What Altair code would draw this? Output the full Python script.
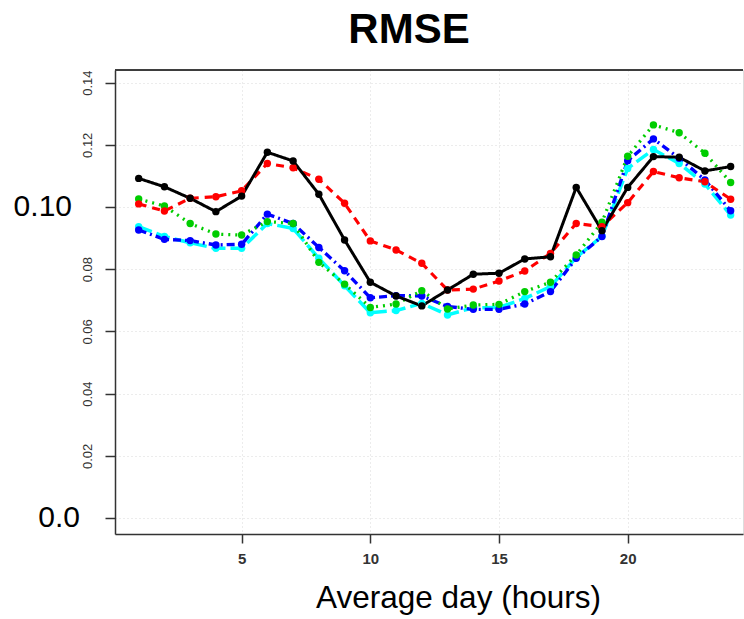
import altair as alt
import pandas as pd

hours = list(range(1, 25))
black = [0.1092, 0.1065, 0.1028, 0.0985, 0.1035, 0.1176, 0.1148, 0.1041, 0.0894, 0.0758, 0.0714, 0.0682,
         0.0733, 0.0784, 0.0787, 0.0833, 0.0840, 0.1063, 0.0924, 0.1063, 0.1162, 0.1160, 0.1116, 0.1130]
red = [0.1010, 0.0987, 0.1028, 0.1033, 0.1052, 0.1140, 0.1126, 0.1089, 0.1012, 0.0891, 0.0862, 0.0819,
       0.0733, 0.0736, 0.0762, 0.0794, 0.0851, 0.0947, 0.0937, 0.1014, 0.1114, 0.1094, 0.1081, 0.1025]
green = [0.1026, 0.1003, 0.0947, 0.0913, 0.0910, 0.0953, 0.0947, 0.0822, 0.0752, 0.0677, 0.0688, 0.0731,
         0.0672, 0.0685, 0.0687, 0.0728, 0.0758, 0.0846, 0.0951, 0.1163, 0.1264, 0.1239, 0.1173, 0.1079]
blue = [0.0926, 0.0896, 0.0892, 0.0878, 0.0880, 0.0977, 0.0947, 0.0870, 0.0795, 0.0708, 0.0715, 0.0714,
        0.0680, 0.0671, 0.0671, 0.0688, 0.0728, 0.0835, 0.0905, 0.1149, 0.1219, 0.1157, 0.1087, 0.0988]
cyan = [0.0937, 0.0905, 0.0885, 0.0867, 0.0867, 0.0947, 0.0931, 0.0835, 0.0747, 0.0660, 0.0667, 0.0690,
        0.0653, 0.0676, 0.0677, 0.0706, 0.0744, 0.0838, 0.0906, 0.1124, 0.1185, 0.1140, 0.1074, 0.0974]

series_names = ["cyan", "blue", "green", "red", "black"]
series_values = [cyan, blue, green, red, black]
series_colors = ["#00FFFF", "#0000FF", "#00CD00", "#FF0000", "#000000"]
series_dash = [[14, 5], [8, 4, 2, 4], [2, 5], [8, 6], [1, 0]]
series_width = [3.5, 3, 3, 3, 2.6]

x_ticks = [5, 10, 15, 20]
y_ticks = [0.0, 0.02, 0.04, 0.06, 0.08, 0.10, 0.12, 0.14]
big_y_values = [0.10, 0.0]
big_y_labels = ["0.10", "0.0"]

rows = []
for name, vals in zip(series_names, series_values):
    for h, v in zip(hours, vals):
        rows.append({"hour": h, "rmse": v, "series": name})
df = pd.DataFrame(rows)

W, H = 628, 464
xscale = alt.Scale(domain=[0.08, 24.48], nice=False, zero=False)
yscale = alt.Scale(domain=[-0.00514, 0.14405], nice=False, zero=False)

color = alt.Color("series:N", scale=alt.Scale(domain=series_names, range=series_colors), legend=None)

x_enc = alt.X("hour:Q", scale=xscale,
              axis=alt.Axis(values=x_ticks, title="Average day (hours)", titleFontSize=31.5,
                            titleFont="Liberation Sans", titleFontWeight="normal", titleColor="#000",
                            titleX=343, titleY=73, titleBaseline="alphabetic", titleAlign="center",
                            labelFontSize=15, labelFontWeight="bold", labelColor="#333",
                            labelFont="Liberation Sans", labelPadding=8,
                            tickSize=9, tickColor="#333", tickWidth=1.5,
                            domainColor="#333", domainWidth=1.5,
                            grid=True, gridColor="#D8D8D8", gridDash=[1, 3], gridWidth=1))
y_enc = alt.Y("rmse:Q", scale=yscale,
              axis=alt.Axis(values=y_ticks, title=None,
                            labelExpr="(datum.value < 0.001 || abs(datum.value - 0.1) < 0.001) ? '' : format(datum.value, '.2f')",
                            labelAngle=270, labelAlign="center", labelBaseline="bottom",
                            labelFontSize=13, labelColor="#333", labelFont="Liberation Sans",
                            labelPadding=11, tickSize=10, tickColor="#333", tickWidth=1.5,
                            domainColor="#333", domainWidth=1.5,
                            grid=True, gridColor="#D8D8D8", gridDash=[1, 3], gridWidth=1))

lines = alt.Chart(df).mark_line(clip=True).encode(
    x=x_enc, y=y_enc, color=color,
    strokeDash=alt.StrokeDash("series:N", scale=alt.Scale(domain=series_names, range=series_dash), legend=None),
    strokeWidth=alt.StrokeWidth("series:N", scale=alt.Scale(domain=series_names, range=series_width), legend=None),
    order=alt.Order("hour:Q"),
)
points = alt.Chart(df).mark_point(filled=True, size=55, opacity=1, clip=True).encode(
    x="hour:Q", y="rmse:Q", color=color,
)

big_df = pd.DataFrame({"v": big_y_values, "label": big_y_labels})
big1 = alt.Chart(big_df[big_df.label == "0.10"]).mark_text(
    align="right", baseline="middle", fontSize=30, font="Liberation Sans", color="#000"
).encode(y="v:Q", x=alt.value(-43), text="label:N")
big2 = alt.Chart(big_df[big_df.label == "0.0"]).mark_text(
    align="right", baseline="middle", fontSize=30, font="Liberation Sans", color="#000"
).encode(y="v:Q", x=alt.value(-35), text="label:N")

top_border = alt.Chart(big_df).mark_rule(color="#333", strokeWidth=1.5).encode(
    x=alt.value(0), x2=alt.value(W), y=alt.value(0)
)

chart = alt.layer(lines, points, big1, big2, top_border).properties(
    width=W, height=H,
    title=alt.TitleParams(text="RMSE", fontSize=42, fontWeight="bold", font="Liberation Sans",
                          color="#000", anchor="middle", dx=-20, dy=46, offset=30, baseline="alphabetic"),
    autosize=alt.AutoSizeParams(type="none"),
    padding={"left": 115, "top": 70, "right": 1, "bottom": 85},
).configure_view(stroke=None).configure(background="white")

chart.save("out.html", embed_options={"renderer": "svg", "actions": False})
